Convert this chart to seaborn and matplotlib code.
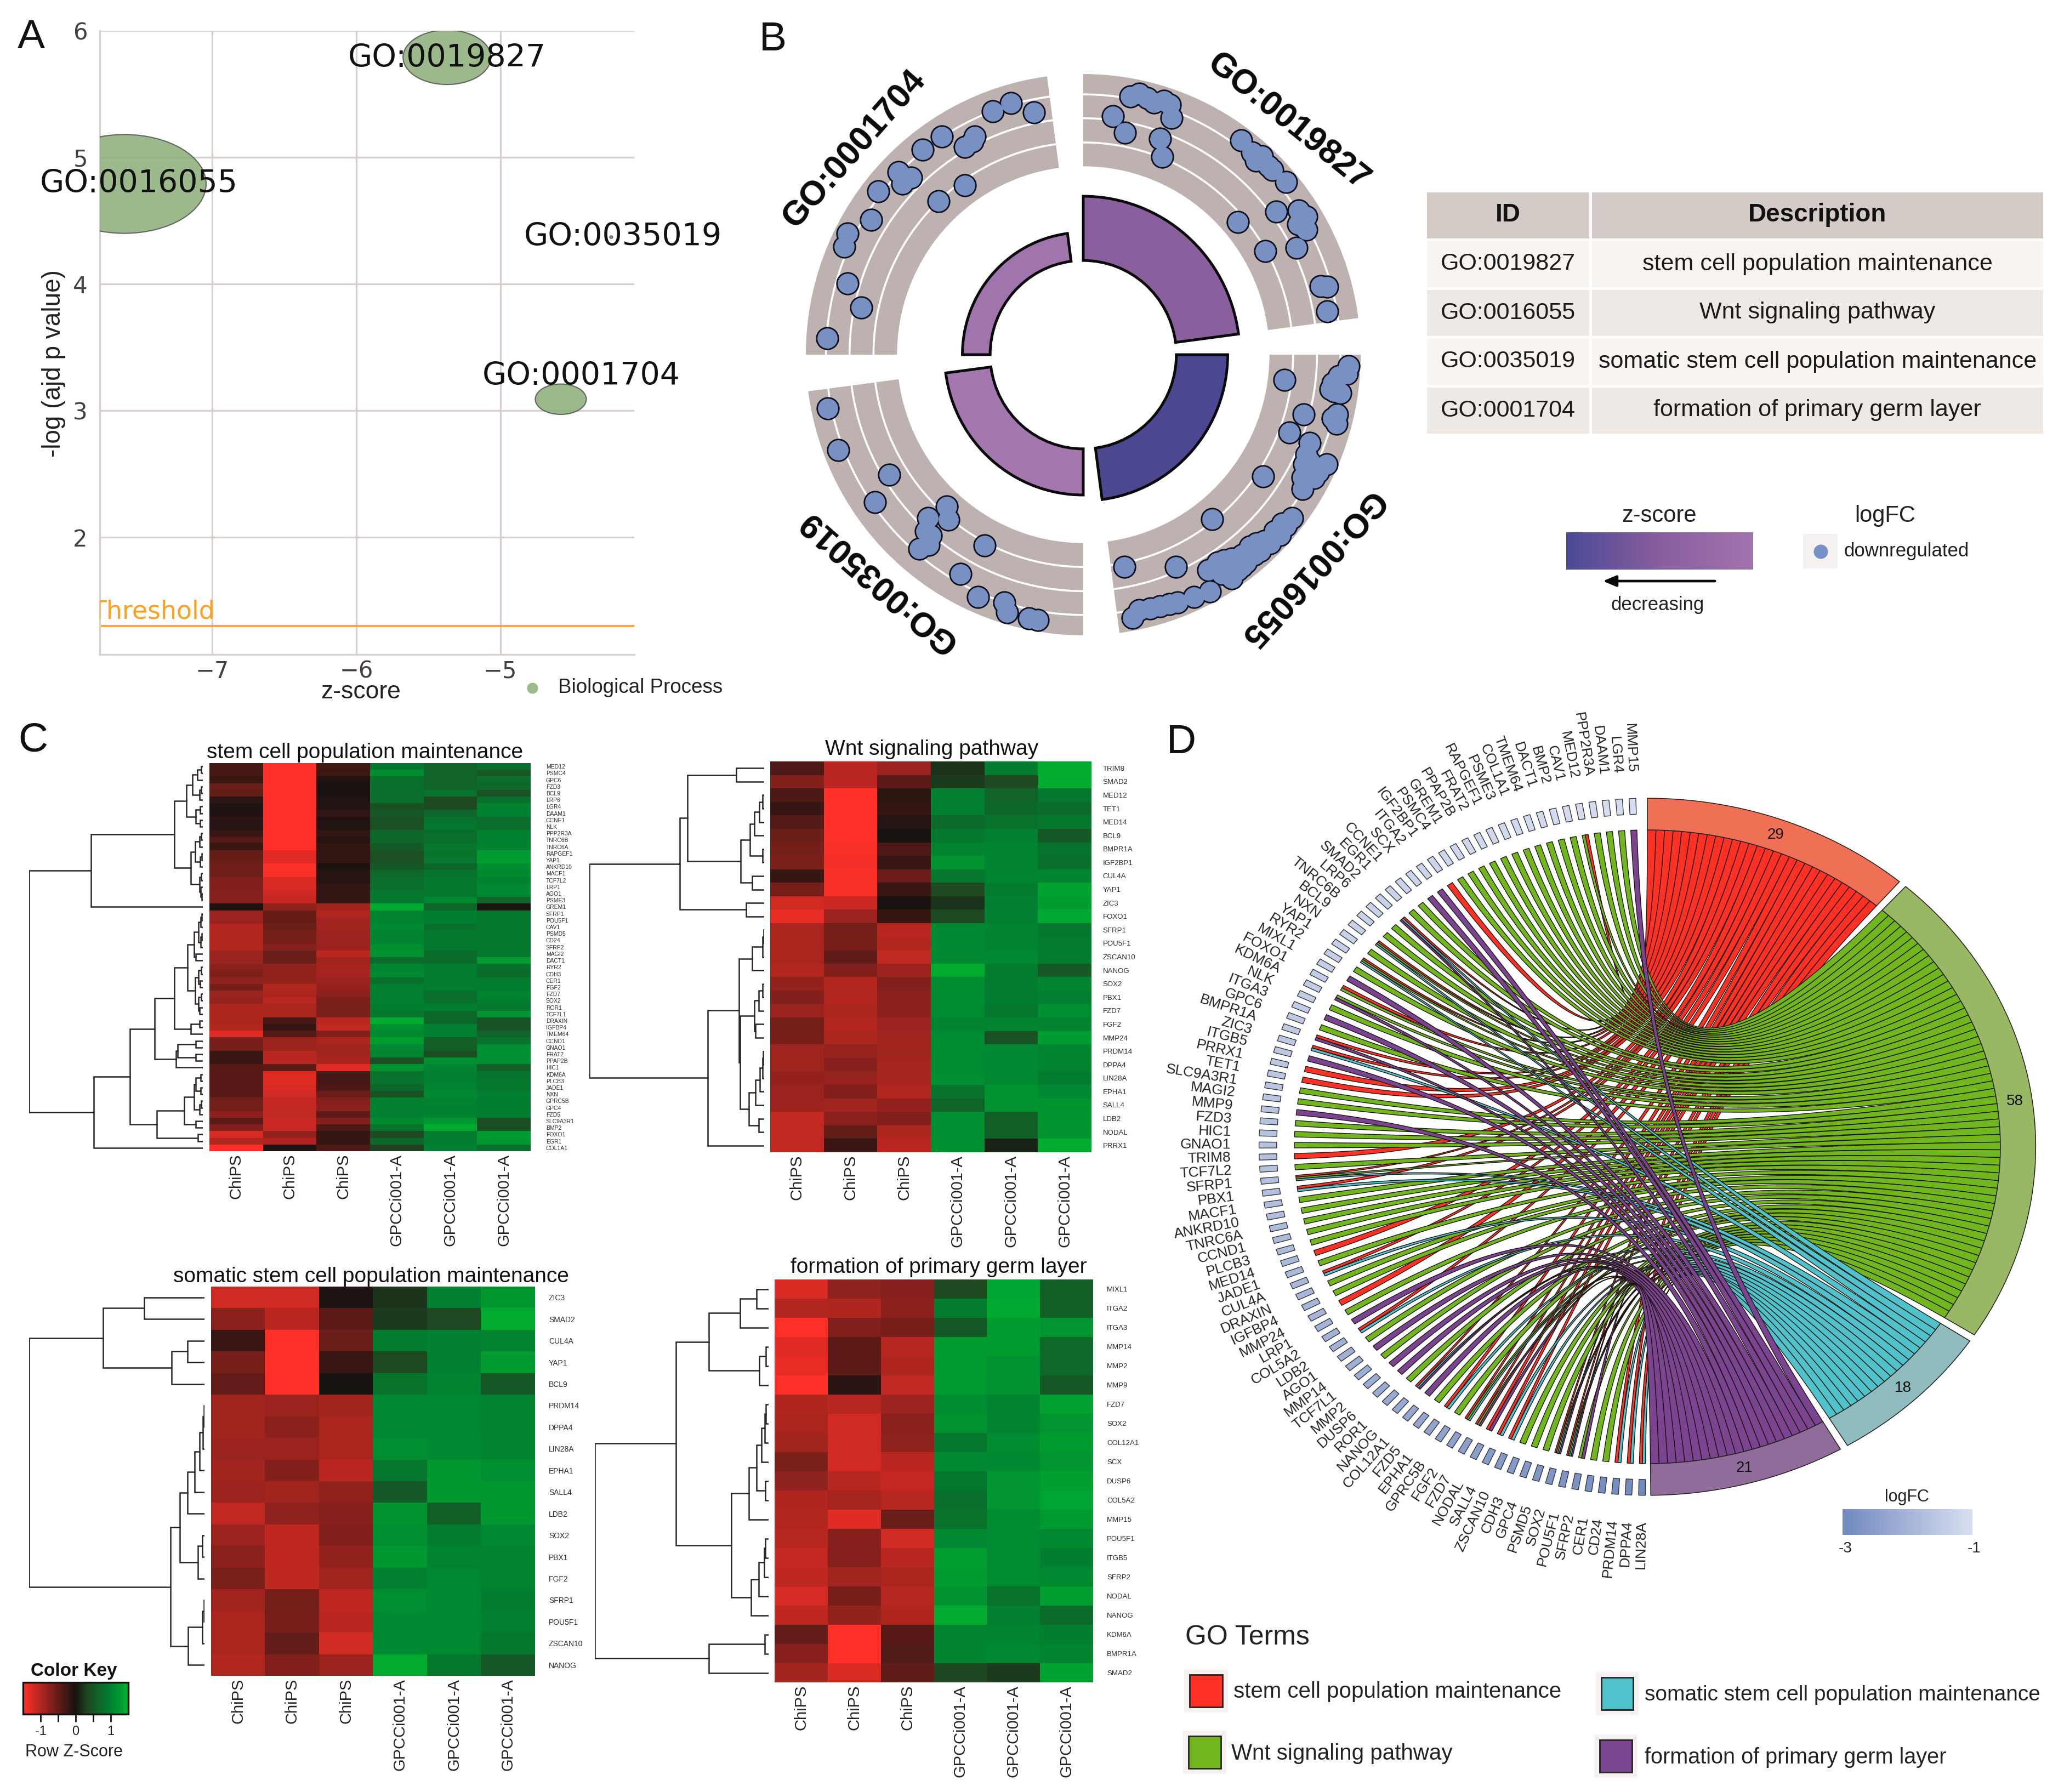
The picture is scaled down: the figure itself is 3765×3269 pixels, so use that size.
import numpy as np
import pandas as pd
import matplotlib
matplotlib.use("Agg")
import matplotlib.pyplot as plt
import seaborn as sns
from matplotlib.colors import LinearSegmentedColormap, Normalize
from matplotlib.cm import ScalarMappable
from matplotlib.patches import Ellipse, Rectangle

# ---------- panel A ----------
bub_ids = ["GO:0019827", "GO:0016055", "GO:0035019", "GO:0001704"]
bub_z = [-5.37, -7.61, -4.23, -4.58]
bub_logp = [5.79, 4.79, 4.37, 3.09]
bub_w = [0.61, 1.136, 0.02, 0.354]
bub_h = [0.43, 0.78, 0.02, 0.24]
lab_z = [-5.37, -7.51, -4.15, -4.44]
lab_logp = [5.78, 4.79, 4.37, 3.27]
threshold = 1.3

# ---------- panel B ----------
sector_ids = ["GO:0019827", "GO:0016055", "GO:0035019", "GO:0001704"]
sector_start = [7.5, -82.5, 187.5, 97.5]
sector_bar = [412, 380, 365, 318]
sector_col = ["#8A5F9E", "#4C4791", "#A478AF", "#A074AD"]

tr_theta = [79.5, 77.7, 75.8, 74.2, 72.2, 70.7, 69.3, 82.9, 79.3, 70.3, 68.0, 53.3, 49.8, 48, 47.6, 45.2, 44, 40.1, 36.2,
            33.5, 31.5, 29, 40.3, 29.4, 26.3, 15.9, 15.4, 9.9, 31]
tr_r = [683, 694, 689, 681, 693, 689, 658, 625, 587, 597, 555, 696, 688, 680, 698, 691, 691, 698, 630,
        679, 689, 671, 534, 550, 626, 649, 666, 652, 660]
br_theta = [-7, -2.5, -4.7, -6.5, -8.4, -4.1, -8.2, -13.1, -15.1, -14.1, -15, -20.5, -21.1, -23.9, -24, -26.2, -25.1,
            -27.8, -31.2, -33.8, -51.6, -37.7, -40, -42.4, -45.5, -47.1, -48.7, -51.2, -53.6, -55.3, -54, -56.1, -59.6,
            -66.2, -78.9, -61.6, -65.2, -68.9, -72.9, -77.5, -79.3, -70.7, -75.1, -56.8, -55.4, -51.6, -47.6, -42.2,
            -57.4, -29, -27.6, -26.1, -49.1, -44.9, -39.8, -54.5, -52.8, -7.9]
br_r = [533, 699, 674, 660, 684, 695, 668, 685, 691, 676, 600, 579, 639, 642, 701, 690, 660,
        687, 675, 569, 545, 695, 684, 681, 680, 669, 665, 667, 659, 650, 692, 701, 649,
        603, 563, 701, 694, 691, 685, 681, 697, 687, 683, 646, 680, 689, 691, 699,
        677, 660, 668, 648, 688, 694, 695, 659, 691, 657]
bl_theta = [191.8, 201, 211.4, 215, 227.7, 230.5, 226.2, 229.5, 230.6, 229.5, 228, 242.4, 240.5, 246.3, 252.1, 253.3,
            258.2, 260.1]
bl_r = [686, 691, 599, 669, 534, 557, 589, 618, 641, 664, 618, 560, 655, 688, 678, 700, 700, 700]
tl_theta = [101.7, 106.2, 110.6, 116.8, 120, 117.7, 123.2, 128.4, 134.6, 135.7, 136.9, 135.5, 141.8, 147.9, 153.1, 156,
            163.4, 168.1, 176.4, 125.3, 133.6]
tl_r = [643, 682, 676, 635, 624, 627, 679, 680, 646, 680, 652, 653, 686, 659, 696, 689, 648, 597, 675, 539, 552]

table_ids = ["GO:0019827", "GO:0016055", "GO:0035019", "GO:0001704"]
table_desc = ["stem cell population maintenance", "Wnt signaling pathway",
              "somatic stem cell population maintenance", "formation of primary germ layer"]

# ---------- panel C ----------
h1_genes = ["MED12", "PSMC4", "GPC6", "FZD3", "BCL9", "LRP6", "LGR4", "DAAM1", "CCNE1", "NLK", "PPP2R3A", "TNRC6B",
            "TNRC6A", "RAPGEF1", "YAP1", "ANKRD10", "MACF1", "TCF7L2", "LRP1", "AGO1", "PSME3", "GREM1", "SFRP1",
            "POU5F1", "CAV1", "PSMD5", "CD24", "SFRP2", "MAGI2", "DACT1", "RYR2", "CDH3", "CER1", "FGF2", "FZD7",
            "SOX2", "ROR1", "TCF7L1", "DRAXIN", "IGFBP4", "TMEM64", "CCND1", "GNAO1", "FRAT2", "PPAP2B", "HIC1",
            "KDM6A", "PLCB3", "JADE1", "NXN", "GPRC5B", "GPC4", "FZD5", "SLC9A3R1", "BMP2", "FOXO1", "EGR1", "COL1A1"]
h1_z = [[-.28, -1.5, -.28, .87, .65, .8], [-.3, -1.5, -.25, 1.14, .65, .5], [-.24, -1.5, -.08, .8, .65, .78],
        [-.55, -1.5, -.02, .8, .65, .72], [-.5, -1.5, -.02, .8, .85, .45], [-.16, -1.5, -.06, .8, .35, .8],
        [-.05, -1.5, -.06, .42, .35, 1.03], [-.05, -1.5, -.18, .5, .7, 1.03], [-.14, -1.5, -.06, .42, .85, .78],
        [-.1, -1.5, -.06, .42, .9, .78], [-.22, -1.5, -.18, .7, .78, 1.03], [-.38, -1.5, -.1, .7, .78, 1.03],
        [-.24, -1.5, -.18, .55, .9, 1.03], [-.52, -1.3, -.18, .42, .85, 1.29], [-.52, -1.3, -.18, .42, .9, 1.29],
        [-.58, -1.5, -.02, .52, .7, 1.14], [-.58, -1.44, -.1, .72, .85, 1.08], [-.68, -1.25, -.1, .78, .9, 1.03],
        [-.68, -1.25, -.18, .78, .9, 1.08], [-.72, -1.17, -.18, .9, .9, 1.08], [-.72, -1.12, -.18, .9, 1.08, .65],
        [-.05, -.78, -.9, 1.42, .7, -.03], [-.85, -.52, -1.0, 1.05, .98, .9], [-.85, -.52, -.92, 1.05, .98, .9],
        [-1.0, -.55, -.9, 1.1, .82, .9], [-1.0, -.62, -.85, 1.05, .9, .9], [-1.0, -.62, -.85, 1.05, .9, .9],
        [-.98, -.72, -.85, 1.15, .92, .88], [-.85, -.55, -1.05, 1.2, .75, .88], [-.85, -.55, -.9, .75, .75, 1.3],
        [-.75, -.78, -.92, 1.05, .95, .8], [-.68, -.8, -.92, 1.1, .95, .75], [-.78, -.8, -.85, .82, .95, .95],
        [-.6, -1.0, -.8, 1.0, .95, .95], [-.85, -.95, -.75, 1.0, .8, 1.05], [-.82, -1.05, -.65, 1.0, .8, .98],
        [-.95, -.95, -.65, .95, .98, .9], [-.95, -.95, -.65, .9, .7, 1.2], [-.95, -.3, -1.05, 1.45, .7, .45],
        [-1.0, -.2, -1.1, 1.15, 1.0, .45], [-1.3, -.38, -.7, 1.1, 1.0, .65], [-.62, -.85, -.95, 1.3, .6, .85],
        [-.62, -.85, -.9, 1.1, .6, 1.15], [-.22, -1.05, -.9, 1.05, .4, 1.15], [-.22, -1.05, -.95, .4, 1.15, 1.15],
        [-.4, -.45, -1.3, 1.2, 1.05, .6], [-.42, -1.3, -.3, .85, 1.0, .85], [-.42, -1.3, -.3, .85, 1.0, .9],
        [-.42, -1.25, -.35, .7, 1.05, .9], [-.42, -1.2, -.55, .45, 1.1, 1.0], [-.6, -1.12, -.7, 1.0, 1.05, .95],
        [-.6, -1.1, -.75, 1.0, 1.0, .98], [-.75, -1.1, -.45, 1.0, 1.02, .98], [-.45, -1.15, -.7, 1.1, 1.25, .4],
        [-.7, -1.15, -.35, .85, 1.45, .4], [-1.25, -.8, -.2, .35, .95, 1.3], [-1.0, -.98, -.2, .7, .95, 1.25],
        [-1.5, -.05, -.35, .3, 1.0, .8]]
h1_tree = (1.0,
           (.645, (.163, (.095, (.06, (.03, (.01, 0, 1), 2), (.02, (.008, 3, 4), 5)),
                          (.04, (.015, 6, 7), (.015, 8, 9))),
                   (.068, (.045, (.02, (.008, 10, 11), 12), (.015, (.006, 13, 14), 15)),
                    (.02, (.01, 16, 17), (.012, 18, (.005, 19, 20))))), 21),
           (.629, (.42, (.278, (.163, (.088, (.05, (.025, (.012, (.006, 22, 23), 24), (.012, (.006, 25, 26), 27)),
                                              (.04, 28, 29)),
                                       (.045, (.025, (.01, 30, 31), (.015, 32, 33)),
                                        (.025, (.008, 34, 35), (.018, 36, 37)))),
                               (.068, (.02, 38, 39), 40)),
                        (.155, (.146, (.04, 41, 42), (.04, 43, 44)), 45)),
                    (.265, (.106, (.05, (.04, (.012, 46, 47), (.012, 48, 49)), (.018, (.008, 50, 51), 52)),
                            (.04, 53, 54)), (.029, 55, 56))), 57))

h2_genes = ["TRIM8", "SMAD2", "MED12", "TET1", "MED14", "BCL9", "BMPR1A", "IGF2BP1", "CUL4A", "YAP1", "ZIC3", "FOXO1",
            "SFRP1", "POU5F1", "ZSCAN10", "NANOG", "SOX2", "PBX1", "FZD7", "FGF2", "MMP24", "PRDM14", "DPPA4",
            "LIN28A", "EPHA1", "SALL4", "LDB2", "NODAL", "PRRX1"]
h2_z = [[-.35, -1.05, -.85, .2, .95, 1.45], [-.7, -1.05, -.45, .25, .35, 1.45], [-.33, -1.5, -.15, 1.0, .65, .9],
        [-.2, -1.5, -.2, 1.0, .7, .75], [-.4, -1.5, -.1, .75, .85, .9], [-.55, -1.5, 0, .9, 1.0, .55],
        [-.6, -1.45, -.35, 1.05, 1.05, .85], [-.65, -1.42, -.22, 1.2, 1.05, .8], [-.2, -1.45, -.55, .9, 1.05, 1.05],
        [-.62, -1.45, -.22, .35, .95, 1.35], [-1.2, -1.15, -.02, .2, 1.0, 1.3], [-1.35, -.85, -.2, .35, 1.0, 1.4],
        [-.95, -.6, -1.05, 1.1, 1.05, .9], [-.95, -.62, -1.0, 1.1, 1.05, .95], [-.95, -.48, -1.1, 1.1, 1.1, .95],
        [-1.0, -.68, -.85, 1.45, .95, .55], [-.8, -1.0, -.7, 1.12, .95, 1.05], [-.7, -1.0, -.75, 1.12, .95, 1.0],
        [-.85, -.95, -.75, 1.12, .9, 1.15], [-.6, -1.0, -.85, 1.05, 1.05, 1.05], [-.62, -.95, -.88, 1.12, .45, 1.3],
        [-.88, -.82, -.88, 1.12, 1.1, 1.05], [-.88, -.72, -.92, 1.12, 1.1, 1.05], [-.8, -.82, -.92, 1.15, 1.1, .95],
        [-.85, -.68, -1.0, .85, 1.2, 1.1], [-.85, -.9, -.8, .65, 1.2, 1.2], [-1.1, -.75, -.7, 1.15, .6, 1.2],
        [-1.1, -.5, -.98, 1.15, .6, 1.2], [-1.1, -.22, -1.05, 1.15, .1, 1.45]]
h2_tree = (1.0,
           (.484, (.44, (.16, 0, 1),
                   (.135, (.08, (.055, (.027, (.01, 2, 3), 4), 5), (.01, 6, 7)), (.07, 8, 9))),
            (.105, 10, 11)),
           (.322, (.143, (.07, (.008, (.004, 12, 13), 14), 15),
                   (.137, (.055, (.03, (.008, 16, 17), 18), (.05, 19, 20)),
                    (.088, (.05, (.025, (.01, (.005, 21, 22), 23), 24), 25), (.03, 26, 27)))), 28))

h3_genes = ["ZIC3", "SMAD2", "CUL4A", "YAP1", "BCL9", "PRDM14", "DPPA4", "LIN28A", "EPHA1", "SALL4", "LDB2", "SOX2",
            "PBX1", "FGF2", "SFRP1", "POU5F1", "ZSCAN10", "NANOG"]
h3_z = [[-1.2, -1.2, -.03, .2, 1.0, 1.25], [-.75, -1.05, -.45, .25, .33, 1.45], [-.22, -1.5, -.55, .95, 1.0, 1.05],
        [-.62, -1.5, -.22, .35, 1.0, 1.3], [-.5, -1.5, 0, .85, 1.05, .55], [-.9, -.85, -.9, 1.1, 1.08, 1.05],
        [-.9, -.75, -.95, 1.1, 1.08, 1.05], [-.85, -.85, -.95, 1.15, 1.1, 1.05], [-.9, -.7, -1.05, .9, 1.25, 1.15],
        [-.85, -.9, -.8, .55, 1.25, 1.25], [-1.1, -.78, -.72, 1.2, .6, 1.25], [-.85, -1.08, -.68, 1.15, .95, 1.1],
        [-.75, -1.08, -.8, 1.25, 1.05, 1.05], [-.65, -1.08, -.88, 1.0, 1.08, 1.05], [-.9, -.6, -1.08, 1.15, 1.08, .95],
        [-.95, -.62, -1.05, 1.1, 1.08, 1.0], [-.95, -.5, -1.2, 1.1, 1.08, .92], [-1.0, -.68, -.85, 1.45, .92, .55]]
h3_tree = (1.0,
           (.578, (.344, 0, 1), (.186, (.098, 2, 3), 4)),
           (.193, (.142, (.098, (.055, (.028, (.009, (.004, 5, 6), 7), 8), 9), 10),
                   (.037, (.011, 11, 12), 13)),
            (.094, (.011, (.004, 14, 15), 16), 17)))

h4_genes = ["MIXL1", "ITGA2", "ITGA3", "MMP14", "MMP2", "MMP9", "FZD7", "SOX2", "COL12A1", "SCX", "DUSP6", "COL5A2",
            "MMP15", "POU5F1", "ITGB5", "SFRP2", "NODAL", "NANOG", "KDM6A", "BMPR1A", "SMAD2"]
h4_z = [[-1.25, -.78, -.72, .35, 1.38, .6], [-1.0, -.98, -.75, .95, 1.42, .6], [-1.5, -.68, -.62, .55, 1.3, 1.22],
        [-1.3, -.45, -1.02, 1.3, 1.28, .72], [-1.35, -.45, -.98, 1.3, 1.18, .72], [-1.5, -.12, -1.1, 1.28, 1.18, .55],
        [-.98, -1.02, -.85, 1.12, 1.05, 1.35], [-.95, -1.2, -.75, 1.18, 1.05, 1.22], [-.9, -1.2, -.78, .9, 1.12, 1.3],
        [-.65, -1.2, -1.05, 1.1, 1.08, 1.22], [-.78, -1.02, -1.12, .88, 1.22, 1.32], [-.98, -.92, -1.02, .82, 1.22, 1.38],
        [-1.0, -1.3, -.55, .85, 1.12, 1.28], [-1.02, -.72, -1.2, 1.08, 1.12, 1.08], [-1.12, -.72, -1.05, 1.32, 1.12, .98],
        [-1.08, -.9, -.95, 1.3, 1.12, 1.08], [-1.22, -.62, -1.02, 1.18, .85, 1.32], [-1.08, -.8, -.98, 1.45, 1.0, .75],
        [-.5, -1.5, -.42, 1.05, 1.05, .98], [-.72, -1.5, -.38, 1.05, 1.08, 1.05], [-.9, -1.25, -.48, .32, .25, 1.35]]
h4_tree = (1.0,
           (.534, (.343, (.165, (.068, 0, 1), 2), (.053, (.015, 3, 4), 5)),
            (.214, (.114, (.068, (.042, (.021, (.015, 6, 7), 8), 9), (.019, 10, 11)), 12),
             (.1, (.057, (.025, (.019, 13, 14), 15), 16), 17))),
           (.343, (.021, 18, 19), 20))

samples = ["ChiPS", "ChiPS", "ChiPS", "GPCCi001-A", "GPCCi001-A", "GPCCi001-A"]

# ---------- panel D ----------
chord_genes = ["LIN28A", "DPPA4", "PRDM14", "CD24", "CER1", "SFRP2", "POU5F1", "SOX2", "PSMD5", "GPC4", "CDH3", "ZSCAN10",
               "SALL4", "NODAL", "FZD7", "FGF2", "GPRC5B", "EPHA1", "FZD5", "COL12A1", "NANOG", "ROR1", "DUSP6", "MMP2",
               "TCF7L1", "MMP14", "AGO1", "LDB2", "COL5A2", "LRP1", "MMP24", "IGFBP4", "DRAXIN", "CUL4A", "JADE1", "MED14",
               "PLCB3", "CCND1", "TNRC6A", "ANKRD10", "MACF1", "PBX1", "SFRP1", "TCF7L2", "TRIM8", "GNAO1", "HIC1", "FZD3",
               "MMP9", "MAGI2", "SLC9A3R1", "TET1", "PRRX1", "ITGB5", "ZIC3", "BMPR1A", "GPC6", "ITGA3", "NLK", "KDM6A",
               "FOXO1", "MIXL1", "RYR2", "YAP1", "NXN", "BCL9", "TNRC6B", "LRP6", "SMAD2", "EGR1", "CCNE1", "SCX", "ITGA2",
               "IGF2BP1", "PSMC4", "GREM1", "PPAP2B", "FRAT2", "RAPGEF1", "PSME3", "COL1A1", "TMEM64", "DACT1", "BMP2",
               "CAV1", "MED12", "PPP2R3A", "DAAM1", "LGR4", "MMP15"]
chord_lfc = [-2.96, -2.92, -2.88, -2.85, -2.8, -2.77, -2.73, -2.7, -2.66, -2.62, -2.6, -2.55, -2.53, -2.48, -2.45, -2.42,
             -2.38, -2.36, -2.31, -2.29, -2.25, -2.22, -2.2, -2.16, -2.13, -2.11, -2.08, -2.06, -2.03, -2.0, -1.98, -1.96,
             -1.93, -1.91, -1.89, -1.86, -1.85, -1.82, -1.8, -1.78, -1.76, -1.74, -1.72, -1.7, -1.68, -1.66, -1.65, -1.63,
             -1.61, -1.6, -1.58, -1.56, -1.54, -1.53, -1.51, -1.5, -1.48, -1.46, -1.45, -1.43, -1.42, -1.4, -1.38, -1.37,
             -1.35, -1.34, -1.32, -1.31, -1.29, -1.28, -1.26, -1.25, -1.24, -1.22, -1.21, -1.2, -1.18, -1.17, -1.16, -1.14,
             -1.13, -1.12, -1.11, -1.1, -1.09, -1.08, -1.07, -1.06, -1.05, -1.04]
term_names = ["stem cell population maintenance", "Wnt signaling pathway",
              "somatic stem cell population maintenance", "formation of primary germ layer"]
term_genes = [h2_genes, h1_genes, h3_genes, h4_genes]
ribbon_cols = ["#FF3024", "#72B61E", "#50C2CC", "#7B4490"]
band_cols = ["#F07055", "#98B864", "#8FBDBF", "#8F6C9A"]

# ---------- layout ----------
W, H = 3766, 3269
sns.set_theme(style="white")
plt.rcParams["font.family"] = ["Liberation Sans", "DejaVu Sans"]
fig = plt.figure(figsize=(W / 100, H / 100), dpi=100, facecolor="white")
redgreen = LinearSegmentedColormap.from_list("rg", [(0.0, "#FF3028"), (0.5, "#161210"), (0.6167, "#1E4A22"),
                                                    (0.8333, "#007F30"), (1.0, "#00B030")])


def px_ax(l, t, r, b, **kw):
    return fig.add_axes([l / W, 1 - b / H, (r - l) / W, (b - t) / H], **kw)


bg = px_ax(0, 0, W, H)
bg.set_xlim(0, W)
bg.set_ylim(H, 0)
bg.axis("off")

for lab, x, y in zip("ABCD", [57, 1410, 60, 2155], [68, 72, 1351, 1354]):
    bg.text(x, y, lab, fontsize=54, ha="center", va="center", color="#111111")

# panel A
ax = px_ax(182, 56, 1157, 1194)
ax.set_xlim(-7.78, -4.07)
ax.set_ylim(1.074, 6.0)
grid = "#D8CFCB"
ax.set_xticks([-7, -6, -5])
ax.set_yticks([2, 3, 4, 5, 6])
ax.set_xticklabels(["\u22127", "\u22126", "\u22125"], family="DejaVu Sans")
ax.set_yticklabels(["2", "3", "4", "5", "6"], family="DejaVu Sans")
ax.grid(True, color=grid, lw=2.4)
ax.set_axisbelow(True)
for side in ["top", "right"]:
    ax.spines[side].set_visible(False)
for side in ["left", "bottom"]:
    ax.spines[side].set_color(grid)
    ax.spines[side].set_linewidth(2.4)
ax.tick_params(length=0, labelsize=30, labelcolor="#443F3C")
ax.tick_params(axis="x", pad=7)
ax.tick_params(axis="y", pad=16)
ax.patch.set_alpha(0)
for x, y, w, h in zip(bub_z, bub_logp, bub_w, bub_h):
    ax.add_patch(Ellipse((x, y), w, h, fc="#8DB07A", ec="#555555", lw=1.5, alpha=0.88, zorder=3))
for x, y, t in zip(lab_z, lab_logp, bub_ids):
    ax.text(x, y, t, fontsize=41, family="DejaVu Sans", ha="center", va="center", color="#111111", zorder=5)
ax.axhline(threshold, color="#FFA020", lw=2.6, zorder=2)
ax.text(-6.98, threshold + 0.015, "Threshold", fontsize=33, family="DejaVu Sans", color="#FFA020", ha="right",
        va="bottom", clip_on=True)
bg.text(98, 663, "-log (ajd p value)", fontsize=33, rotation=90, ha="center", va="center", color="#222222")
bg.text(658, 1262, "z-score", fontsize=32, ha="center", va="center", color="#222222")
bg.scatter([971], [1255], s=210, color="#9CBB88", lw=0)
bg.text(1018, 1255, "Biological Process", fontsize=26.5, va="center", color="#222222")

# panel B
R_MAX = 740
pol = px_ax(1976 - 513, 647 - 519, 1976 + 513, 647 + 519, projection="polar")
pol.set_aspect("auto")
for start, top, col in zip(sector_start, sector_bar, sector_col):
    mid = np.deg2rad(start + 41.25)
    pol.bar(mid, 240, width=np.deg2rad(82.5), bottom=490, color="#BDB2AF", lw=0)
    pol.bar(mid, top - 245, width=np.deg2rad(82.5), bottom=245, color=col, edgecolor="#0A0A0A", lw=3.6)
    for rr in [552, 615, 677]:
        arc = np.deg2rad(np.linspace(start, start + 82.5, 60))
        pol.plot(arc, np.full(60, rr), color="white", lw=2.6)
all_theta = np.deg2rad(tr_theta + br_theta + bl_theta + tl_theta)
all_r = np.array(tr_r + br_r + bl_r + tl_r)
sns.scatterplot(x=all_theta, y=all_r, ax=pol, s=930, color="#0E1020", linewidth=0, zorder=4)
sns.scatterplot(x=all_theta, y=all_r, ax=pol, s=700, color="#7990C3", linewidth=0, zorder=5)
pol.set_rlim(0, R_MAX)
pol.axis("off")
for t, x, y, rot in zip(["GO:0019827", "GO:0016055", "GO:0035019", "GO:0001704"],
                        [2350, 2392, 1602, 1558], [223, 1037, 1061, 272], [-39, 228, 138.8, 48.6]):
    bg.text(x, y, t, fontsize=45, fontweight="bold", rotation=rot, rotation_mode="anchor", ha="center", va="center",
            color="#0A0A0A")

# table
tab_ax = px_ax(2600, 348, 3729, 793)
tab_ax.axis("off")
cells = [[a, b] for a, b in zip(table_ids, table_desc)]
tab = tab_ax.table(cellText=cells, colLabels=["ID", "Description"], cellLoc="center", colWidths=[0.267, 0.733],
                   bbox=[0, 0, 1, 1])
tab.auto_set_font_size(False)
for (r, c), cell in tab.get_celld().items():
    cell.set_edgecolor("white")
    cell.set_linewidth(3.6)
    cell.set_fontsize(31)
    if r == 0:
        cell.set_facecolor("#D5CBC6")
        cell.set_fontsize(33)
        cell.set_text_props(fontweight="bold", color="#111111")
    else:
        cell.set_facecolor("#F7F4F2" if r % 2 == 1 else "#EFE9E6")
        cell.set_text_props(color="#1A1A1A")

zc = px_ax(2857, 971, 3198, 1039)
zmap = LinearSegmentedColormap.from_list("z", ["#4A4A96", "#885D9C", "#A274AE"])
cb = fig.colorbar(ScalarMappable(Normalize(-7.6, -4.6), zmap), cax=zc, orientation="horizontal")
cb.set_ticks([])
cb.outline.set_visible(False)
bg.text(3027, 941, "z-score", fontsize=30, ha="center", va="center", color="#222222")
bg.text(3439, 941, "logFC", fontsize=30, ha="center", va="center", color="#222222")
bg.annotate("", xy=(2921, 1060), xytext=(3131, 1060),
            arrowprops=dict(arrowstyle="-|>,head_length=1.2,head_width=0.5", color="#0A0A0A", lw=3.4))
bg.text(3024, 1103, "decreasing", fontsize=25, ha="center", va="center", color="#222222")
bg.add_patch(Rectangle((3289, 974), 63, 63, fc="#F5F1F0", lw=0))
bg.scatter([3321], [1006], s=350, color="#7790C8", lw=0, zorder=3)
bg.text(3364, 1006, "downregulated", fontsize=25, va="center", color="#222222")


# panel C
def draw_tree(dax, node):
    if not isinstance(node, tuple):
        return node + 0.5, 0.0
    h, a, b = node
    ya, ha = draw_tree(dax, a)
    yb, hb = draw_tree(dax, b)
    dax.plot([ha, h, h, hb], [ya, ya, yb, yb], color="#2A2420", lw=1.8, solid_joinstyle="miter")
    return (ya + yb) / 2, h


def clustered(genes, z, tree, title, hm_box, tree_x, title_xy, label_size, pad):
    l, t, r, b = hm_box
    hax = px_ax(l, t, r, b)
    df = pd.DataFrame(z, index=genes)
    sns.heatmap(df, ax=hax, cmap=redgreen, vmin=-1.5, vmax=1.5, cbar=False, xticklabels=samples, yticklabels=genes)
    hax.yaxis.tick_right()
    hax.tick_params(axis="x", length=0, labelsize=21, labelrotation=90, pad=3.5, labelcolor="#222222")
    hax.tick_params(axis="y", length=0, labelsize=label_size, labelrotation=0, pad=pad, labelcolor="#332C28")
    hax.set_xlabel("")
    hax.set_ylabel("")
    dax = px_ax(tree_x[0], t, tree_x[1], b)
    draw_tree(dax, tree)
    dax.set_xlim(1, 0)
    dax.set_ylim(len(genes), 0)
    dax.axis("off")
    bg.text(title_xy[0], title_xy[1], title, fontsize=28, ha="center", va="center", color="#111111")


clustered(h1_genes, h1_z, h1_tree, "stem cell population maintenance", (382, 1392, 968, 2100), (53, 370), (666, 1373), 7.5, 20)
clustered(h2_genes, h2_z, h2_tree, "Wnt signaling pathway", (1405, 1389, 1991, 2102), (1075, 1394), (1700, 1367), 9.5, 15)
clustered(h3_genes, h3_z, h3_tree, "somatic stem cell population maintenance", (385, 2347, 976, 3057), (53, 373), (677, 2329), 10, 18)
clustered(h4_genes, h4_z, h4_tree, "formation of primary germ layer", (1413, 2334, 1994, 3069), (1085, 1402), (1712, 2312), 9.5, 18)

ck = px_ax(42, 3069, 234, 3127)
cb = fig.colorbar(ScalarMappable(Normalize(-1.5, 1.5), redgreen), cax=ck, orientation="horizontal")
cb.set_ticks([-1, -0.5, 0, 0.5, 1], labels=["-1", "", "0", "", "1"])
cb.ax.tick_params(length=10, width=2, labelsize=17, color="#111111", pad=5, labelcolor="#222222")
cb.outline.set_edgecolor("#111111")
cb.outline.set_linewidth(2.4)
bg.text(135, 3048, "Color Key", fontsize=24, fontweight="bold", ha="center", va="center", color="#111111")
bg.text(135, 3196, "Row Z-Score", fontsize=22, ha="center", va="center", color="#222222")

# panel D
RX, RY, CX, CY = 644, 578, 3005, 2092
xl, xr, yb, yt = -1.2, 1.15, -1.15, 1.15
ch = px_ax(CX + xl * RX, CY - yt * RY, CX + xr * RX, CY - yb * RY)
ch.set_xlim(xl, xr)
ch.set_ylim(yb, yt)
ch.axis("off")


def polar_xy(deg, r=1.0):
    a = np.deg2rad(deg)
    return r * np.cos(a), r * np.sin(a)


def arc_xy(a0, a1, r=1.0, n=12):
    a = np.deg2rad(np.linspace(a0, a1, n))
    return r * np.cos(a), r * np.sin(a)


def bez(p0, p3, c=0.25, n=40):
    t = np.linspace(0, 1, n)[:, None]
    p0, p3 = np.array(p0), np.array(p3)
    return (1 - t) ** 3 * p0 + 3 * (1 - t) ** 2 * t * (c * p0) + 3 * (1 - t) * t ** 2 * (c * p3) + t ** 3 * p3


GENE_TOP, GENE_BOTTOM = 92.2, 269.2
step = (GENE_BOTTOM - GENE_TOP) / (len(chord_genes) - 1)
half = 0.25 * step
gene_angle = {g: GENE_BOTTOM - i * step for i, g in enumerate(chord_genes)}
gene_terms = {g: [k for k, members in enumerate(term_genes) if g in members] for g in chord_genes}
unit = (179.5 - 3 * 1.2) / sum(len(m) for m in term_genes)

a = 90.0
ends = []
for k, members in enumerate(term_genes):
    a_end = a - unit * len(members)
    ends.append((a, a_end))
    xo, yo = arc_xy(a, a_end, 1.10, 50)
    xi, yi = arc_xy(a_end, a, 1.0, 50)
    ch.fill(np.r_[xo, xi], np.r_[yo, yi], fc=band_cols[k], ec="#222222", lw=1.1, zorder=6)
    mx, my = polar_xy((a + a_end) / 2, 1.05)
    ch.text(mx, my, str(len(members)), fontsize=20, ha="center", va="center", color="#111111", zorder=7)
    a = a_end - 1.2

for k, members in enumerate(term_genes):
    a = ends[k][0]
    ordered = sorted([g for g in members if g in gene_angle], key=lambda g: gene_angle[g])
    for g in ordered:
        a0, a1 = a, a - unit
        a = a1
        parts = gene_terms[g]
        j = parts.index(k)
        w = 2 * half / len(parts)
        g_lo = gene_angle[g] - half + j * w
        g_hi = g_lo + w
        ax0, ay0 = arc_xy(a0, a1)
        c1 = bez(polar_xy(a1), polar_xy(g_hi))
        gx, gy = arc_xy(g_hi, g_lo, n=4)
        c2 = bez(polar_xy(g_lo), polar_xy(a0))
        xs = np.r_[ax0, c1[:, 0], gx, c2[:, 0]]
        ys = np.r_[ay0, c1[:, 1], gy, c2[:, 1]]
        ch.fill(xs, ys, fc=ribbon_cols[k], ec="#1C1512", lw=1.0, zorder=2 + k * 0.1)

lfc_map = LinearSegmentedColormap.from_list("lfc", ["#7088BE", "#D8DFF0"])
lfc_norm = Normalize(-3, -1)
for g, v in zip(chord_genes, chord_lfc):
    phi = gene_angle[g]
    xo, yo = arc_xy(phi - half, phi + half, 1.10, 4)
    xi, yi = arc_xy(phi + half, phi - half, 1.05, 4)
    ch.fill(np.r_[xo, xi], np.r_[yo, yi], fc=lfc_map(lfc_norm(v)), ec="#333333", lw=1.0, zorder=6)
    lx, ly = polar_xy(phi, 1.18)
    rot = np.rad2deg(np.arctan2(RY * np.sin(np.deg2rad(phi)), RX * np.cos(np.deg2rad(phi)))) - 180
    ch.text(lx, ly, g, fontsize=19, rotation=rot, rotation_mode="anchor", ha="right", va="center", color="#222222")

lc = px_ax(3361, 2753, 3598, 2800)
cb = fig.colorbar(ScalarMappable(lfc_norm, lfc_map), cax=lc, orientation="horizontal")
cb.set_ticks([])
cb.outline.set_visible(False)
bg.text(3478, 2731, "logFC", fontsize=22, ha="center", va="center", color="#222222")
bg.text(3366, 2825, "-3", fontsize=20, ha="center", va="center", color="#222222")
bg.text(3601, 2825, "-1", fontsize=20, ha="center", va="center", color="#222222")

bg.text(2162, 2987, "GO Terms", fontsize=36, va="center", color="#222222")
leg_box = [(2170, 3055, 2230, 3114), (2168, 3167, 2227, 3226), (2921, 3060, 2979, 3119), (2918, 3174, 2977, 3233)]
leg_col = ["#FF3024", "#72B61E", "#50C2CC", "#7B4490"]
leg_txt = [(2250, 3086), (2246, 3199), (3000, 3092), (3000, 3206)]
leg_size = [29, 29, 28, 28.5]
for (x0, y0, x1, y1), col, (tx, ty), name, fs in zip(leg_box, leg_col, leg_txt, term_names, leg_size):
    bg.add_patch(Rectangle((x0 - 10, y0 - 10), x1 - x0 + 20, y1 - y0 + 20, fc="#F7F1F0", lw=0))
    bg.add_patch(Rectangle((x0, y0), x1 - x0, y1 - y0, fc=col, ec="#222222", lw=2))
    bg.text(tx, ty, name, fontsize=fs, va="center", color="#222222")

fig.savefig("out.png", dpi=100, facecolor="white")
